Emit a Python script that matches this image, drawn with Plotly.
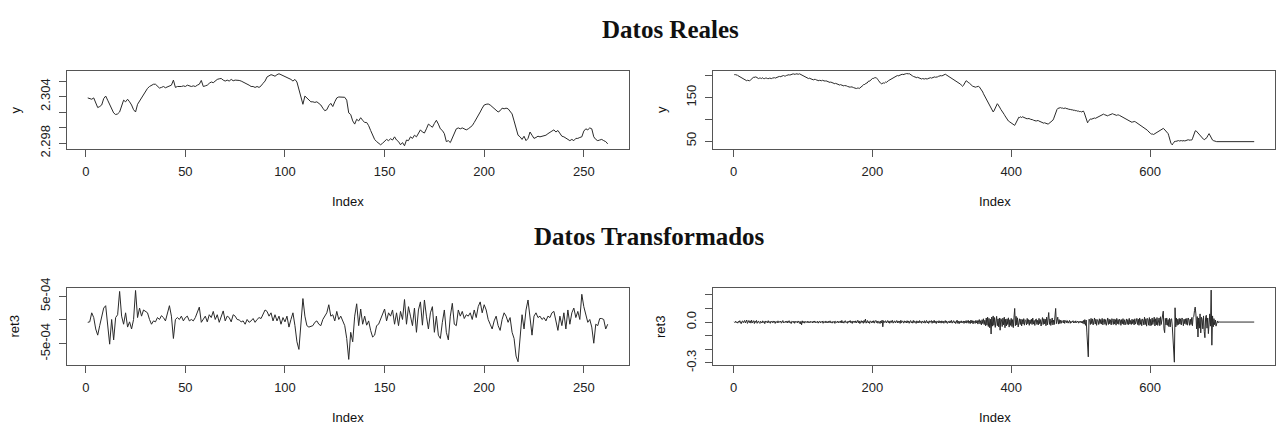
import plotly.graph_objects as go

# ---------------- data ----------------
# Top-left panel: "y" (Datos Reales), index 1..262
real_left = [
    2.30383, 2.30374, 2.30366, 2.30383, 2.30313, 2.30259, 2.30272, 2.30292, 2.30374, 2.30407,
    2.30354, 2.30292, 2.30243, 2.30190, 2.30169, 2.30177, 2.30202, 2.30292, 2.30354, 2.30333,
    2.30366, 2.30333, 2.30292, 2.30231, 2.30202, 2.30301, 2.30342, 2.30395, 2.30436, 2.30477,
    2.30506, 2.30530, 2.30547, 2.30559, 2.30559, 2.30530, 2.30510, 2.30518, 2.30530, 2.30514,
    2.30526, 2.30538, 2.30547, 2.30612, 2.30518, 2.30530, 2.30526, 2.30530, 2.30538, 2.30530,
    2.30547, 2.30538, 2.30530, 2.30538, 2.30530, 2.30547, 2.30559, 2.30608, 2.30530, 2.30538,
    2.30547, 2.30571, 2.30588, 2.30579, 2.30600, 2.30621, 2.30629, 2.30633, 2.30612, 2.30600,
    2.30612, 2.30600, 2.30621, 2.30604, 2.30612, 2.30612, 2.30608, 2.30600, 2.30588, 2.30579,
    2.30559, 2.30547, 2.30530, 2.30530, 2.30518, 2.30530, 2.30518, 2.30538, 2.30571, 2.30600,
    2.30653, 2.30670, 2.30682, 2.30674, 2.30662, 2.30682, 2.30694, 2.30682, 2.30670, 2.30662,
    2.30653, 2.30633, 2.30621, 2.30600, 2.30621, 2.30588, 2.30497, 2.30415, 2.30301, 2.30407,
    2.30383, 2.30354, 2.30333, 2.30333, 2.30325, 2.30333, 2.30313, 2.30292, 2.30251, 2.30218,
    2.30231, 2.30284, 2.30313, 2.30272, 2.30333, 2.30383, 2.30395, 2.30395, 2.30395, 2.30391,
    2.30354, 2.30190, 2.30169, 2.30087, 2.30046, 2.30108, 2.30087, 2.30128, 2.30095, 2.30067,
    2.30067, 2.30026, 2.29964, 2.29903, 2.29849, 2.29821, 2.29800, 2.29780, 2.29800, 2.29821,
    2.29849, 2.29833, 2.29857, 2.29841, 2.29882, 2.29841, 2.29821, 2.29780, 2.29808, 2.29767,
    2.29841, 2.29833, 2.29882, 2.29862, 2.29903, 2.29882, 2.29923, 2.29972, 2.29944, 2.29931,
    2.29985, 2.30046, 2.30026, 2.30005, 2.30054, 2.30095, 2.30046, 2.29985, 2.29964, 2.29923,
    2.29821, 2.29833, 2.29808, 2.29862, 2.29923, 2.29985, 2.29997, 2.29985, 2.29997, 2.29985,
    2.29972, 2.29985, 2.30005, 2.30026, 2.30067, 2.30108, 2.30149, 2.30202, 2.30251, 2.30292,
    2.30301, 2.30305, 2.30292, 2.30272, 2.30251, 2.30231, 2.30202, 2.30218, 2.30251, 2.30243,
    2.30251, 2.30243, 2.30210, 2.30177, 2.30087, 2.29985, 2.29903, 2.29882, 2.29849, 2.29890,
    2.29833, 2.29862, 2.29944, 2.29903, 2.29862, 2.29874, 2.29890, 2.29882, 2.29890, 2.29890,
    2.29903, 2.29923, 2.29944, 2.29956, 2.29972, 2.29944, 2.29964, 2.29923, 2.29890, 2.29882,
    2.29862, 2.29849, 2.29833, 2.29849, 2.29833, 2.29862, 2.29862, 2.29874, 2.29882, 2.29956,
    2.29985, 2.29972, 2.29997, 2.29985, 2.29882, 2.29849, 2.29833, 2.29841, 2.29849, 2.29833,
    2.29821, 2.29792,
]

# Top-right panel: "y" (Datos Reales), index 1..750
real_right = [
    203, 204, 203, 202, 203, 201, 200, 199, 198, 197, 196, 195, 194, 193, 192, 191, 190, 190, 189, 190,
    189, 188, 189, 190, 192, 193, 195, 196, 197, 196, 197, 198, 197, 196, 195, 194, 195, 196, 195, 194,
    195, 196, 194, 193, 194, 195, 196, 195, 194, 193, 194, 195, 194, 193, 194, 195, 196, 195, 196, 195,
    196, 197, 196, 197, 198, 199, 198, 199, 200, 199, 200, 201, 200, 199, 200, 201, 202, 201, 202, 203,
    202, 203, 204, 203, 204, 205, 204, 203, 204, 205, 204.5, 205.5, 205, 204, 205, 204, 203, 202, 201, 200,
    201, 200, 199, 198, 197, 196, 195, 194, 195, 194, 193, 192, 193, 192, 191, 192, 193, 192, 191, 190,
    191, 190, 189, 190, 189, 188, 189, 190, 189, 188, 187, 188, 189, 188, 187, 186, 187, 186, 185, 186,
    185, 184, 185, 184, 183, 182, 183, 182, 181, 182, 181, 180, 179, 180, 179, 178, 179, 178, 177, 178,
    177, 176, 177, 176, 175, 176, 175, 174, 175, 174, 173, 174, 173, 172, 173, 172, 171, 172, 173, 172,
    171, 172, 174, 176, 175, 177, 179, 181, 180, 182, 184, 183, 185, 187, 189, 188, 190, 192, 193, 194,
    195, 194, 196, 197, 196, 195, 194, 192, 189, 186, 184, 183, 182, 183, 182, 184, 183, 185, 186, 185,
    187, 188, 189, 190, 191, 193, 194, 195, 196, 197, 198, 199, 198, 199, 200, 201, 200, 201, 202, 203,
    202, 203, 204, 203, 204, 205, 204, 205, 205.5, 205, 204, 205, 205.5, 204, 203, 202, 201, 200, 199, 198,
    199, 198, 197, 196, 197, 196, 195, 194, 195, 194, 193, 194, 193, 192, 193, 194, 193, 192, 193, 194,
    195, 194, 195, 196, 195, 196, 197, 196, 197, 198, 197, 198, 199, 198, 199, 200, 199, 200, 201, 200,
    201, 202, 201, 203, 204, 203, 202, 201, 200, 199, 198, 197, 196, 195, 194, 193, 192, 191, 190, 189,
    188, 187, 186, 185, 184, 183, 181, 179, 177, 176, 178, 181, 184, 187, 189, 188, 186, 185, 184, 183,
    181, 179, 178, 177, 176, 175, 174, 173, 174, 175, 176, 177, 176, 175, 173, 171, 169, 166, 163, 159,
    156, 153, 149, 146, 143, 141, 138, 135, 131, 128, 125, 122, 119, 117, 119, 123, 128, 132, 135, 136,
    134, 132, 129, 126, 123, 121, 118, 115, 113, 111, 108, 105, 102, 100, 98, 96, 95, 94, 93, 92,
    91, 89, 88, 87, 86, 89, 93, 96, 100, 103, 105, 104, 106, 105, 104, 106, 105, 104, 103, 104,
    103, 102, 101, 102, 101, 100, 101, 100, 99, 98, 99, 98, 97, 98, 97, 96, 97, 98, 97, 96,
    95, 96, 95, 94, 93, 92, 91, 92, 91, 90, 89, 88, 89, 90, 91, 92, 93, 95, 97, 98,
    101, 106, 111, 116, 121, 123, 125, 126, 127, 126, 127, 126, 127, 126, 125, 126, 125, 126, 125, 124,
    125, 124, 123, 124, 123, 122, 123, 122, 121, 122, 121, 120, 121, 120, 119, 120, 119, 118, 119, 118,
    117, 118, 117, 119, 116, 111, 105, 99, 94, 92, 95, 98, 100, 101, 100, 101, 102, 101, 102, 103,
    102, 103, 104, 105, 104, 105, 106, 107, 108, 109, 110, 111, 112, 111, 110, 109, 108, 107, 108, 109,
    110, 111, 112, 113, 114, 113, 112, 111, 110, 109, 108, 109, 110, 111, 110, 109, 108, 107, 106, 105,
    104, 103, 102, 101, 100, 99, 98, 97, 96, 95, 94, 93, 92, 93, 94, 95, 96, 95, 94, 93,
    91, 90, 89, 88, 87, 86, 85, 84, 83, 82, 81, 80, 79, 78, 77, 75, 73, 71, 69, 68,
    67, 66, 67, 66, 65, 66, 67, 68, 69, 70, 71, 72, 73, 74, 75, 76, 77, 78, 79, 78,
    76, 74, 72, 70, 68, 67, 62, 55, 49, 45, 43, 41, 44, 47, 48, 50, 49, 50, 51, 50,
    51, 50, 51, 52, 51, 50, 51, 52, 51, 50, 51, 52, 51, 52, 53, 52, 51, 52, 53, 52,
    55, 60, 65, 70, 73, 74, 72, 70, 68, 66, 64, 62, 60, 58, 56, 55, 54, 53, 54, 55,
    56, 58, 62, 66, 67, 64, 60, 57, 54, 52, 51, 50, 50, 49, 49, 48.5, 48.5, 48.5, 48.5, 48.5,
    48.5, 48.5, 48.5, 48.5, 48.5, 48.5, 48.5, 48.5, 48.5, 48.5, 48.5, 48.5, 48.5, 48.5, 48.5, 48.5, 48.5, 48.5, 48.5, 48.5,
    48.5, 48.5, 48.5, 48.5, 48.5, 48.5, 48.5, 48.5, 48.5, 48.5, 48.5, 48.5, 48.5, 48.5, 48.5, 48.5, 48.5, 48.5, 48.5, 48.5,
    48.5, 48.5, 48.5, 48.5, 48.5, 48.5, 48.5, 48.5, 48.5, 48.5,
]

# Bottom-left panel: "ret3" (Datos Transformados), index 1..262
trans_left = [
    -0.5e-4, -0.4e-4, 1.5e-4, 0.5e-4, -1.9e-4, -3.2e-4, -1.2e-4, 0.8e-4, 2.5e-4, 3.0e-4,
    -0.5e-4, -5.1e-4, 0.1e-4, -4.2e-4, 0.5e-4, 1.1e-4, 6.0e-4, 0.8e-4, -0.9e-4, 1.5e-4,
    -1.5e-4, -0.4e-4, -1.9e-4, 0.1e-4, 6.2e-4, 0.5e-4, 2.5e-4, 0.8e-4, 2.1e-4, 1.8e-4,
    1.5e-4, 0.1e-4, -0.9e-4, -0.2e-4, -0.4e-4, 0.5e-4, 0.1e-4, 0.9e-4, 0.5e-4, -0.2e-4,
    1.5e-4, 3.0e-4, 0.8e-4, -3.9e-4, 0.1e-4, 0.5e-4, 0.1e-4, 0.8e-4, -0.2e-4, 0.5e-4,
    0.8e-4, -0.2e-4, 0.1e-4, -0.2e-4, 0.5e-4, 1.5e-4, 2.7e-4, -0.5e-4, 0.1e-4, 0.8e-4,
    -0.4e-4, 1.1e-4, 0.5e-4, 1.8e-4, 0.1e-4, 1.1e-4, -0.5e-4, 0.8e-4, 1.9e-4, -0.2e-4,
    0.8e-4, 0.5e-4, -0.4e-4, 1.1e-4, 0.8e-4, 0.1e-4, 0.0, -0.4e-4, -0.2e-4, -0.9e-4,
    0.1e-4, -0.5e-4, -0.2e-4, 0.3e-4, -0.5e-4, 0.1e-4, 0.5e-4, 0.3e-4, 1.1e-4, 2.1e-4,
    1.8e-4, 0.8e-4, 1.5e-4, -0.2e-4, 1.1e-4, -0.2e-4, 0.8e-4, -0.9e-4, 0.5e-4, -0.4e-4,
    0.8e-4, -1.5e-4, 0.1e-4, 1.5e-4, -1.2e-4, -4.6e-4, -6.2e-4, -0.5e-4, 4.5e-4, 0.8e-4,
    -1.2e-4, -1.5e-4, -1.3e-4, -1.2e-4, -0.5e-4, -0.2e-4, -0.9e-4, -1.2e-4, 0.1e-4, 0.8e-4,
    1.5e-4, 3.2e-4, 0.8e-4, 1.1e-4, -0.2e-4, 1.8e-4, 0.1e-4, 0.8e-4, -0.2e-4, -1.2e-4,
    -3.9e-4, -8.3e-4, -2.6e-4, -4.6e-4, 0.8e-4, 3.4e-4, -1.2e-4, 2.3e-4, -0.9e-4, 0.8e-4,
    -1.1e-4, -0.2e-4, -2.2e-4, -3.6e-4, -3.2e-4, -1.2e-4, -0.9e-4, 0.1e-4, 1.1e-4, 2.3e-4,
    -0.2e-4, 1.5e-4, 0.8e-4, 2.1e-4, -0.9e-4, 1.5e-4, -1.2e-4, 1.8e-4, 0.1e-4, 4.3e-4,
    -0.9e-4, 2.8e-4, 0.8e-4, -1.2e-4, 2.5e-4, -2.6e-4, 2.1e-4, 3.8e-4, -1.1e-4, 4.2e-4,
    0.8e-4, -1.9e-4, 1.5e-4, 2.8e-4, -2.6e-4, 0.8e-4, -3.2e-4, -3.9e-4, -0.5e-4, 2.1e-4,
    -2.6e-4, -4.2e-4, 0.8e-4, 3.5e-4, -0.9e-4, -1.2e-4, 2.1e-4, 0.8e-4, 1.8e-4, 0.3e-4,
    1.1e-4, 0.8e-4, 1.5e-4, 0.1e-4, 2.1e-4, 0.5e-4, 2.8e-4, 3.8e-4, 1.5e-4, 3.2e-4,
    2.1e-4, 0.1e-4, -0.9e-4, -1.9e-4, -0.2e-4, 0.8e-4, -1.2e-4, -2.2e-4, 0.1e-4, 1.5e-4,
    0.8e-4, -0.5e-4, 0.5e-4, -2.6e-4, -3.9e-4, -7.6e-4, -8.8e-4, -3.2e-4, 1.1e-4, -1.9e-4,
    2.1e-4, 4.2e-4, 0.1e-4, -3.2e-4, 0.8e-4, 1.5e-4, 0.5e-4, 0.8e-4, 0.1e-4, 0.5e-4,
    -0.2e-4, 0.8e-4, 0.5e-4, 1.5e-4, 1.8e-4, -0.5e-4, -2.2e-4, 0.8e-4, -1.2e-4, 1.5e-4,
    -1.9e-4, 2.1e-4, -0.9e-4, 1.5e-4, 2.5e-4, 0.5e-4, 1.8e-4, 0.1e-4, 5.4e-4, 2.8e-4,
    0.8e-4, -0.5e-4, 0.1e-4, -1.5e-4, -4.9e-4, -0.9e-4, -1.2e-4, 0.3e-4, 0.3e-4, 0.1e-4,
    -1.9e-4, -0.9e-4,
]

# Bottom-right panel: "ret3" (Datos Transformados), index 1..750
trans_right = [
    0.002, -0.004, 0.006, -0.003, 0.001, -0.008, 0.005, -0.002, 0.010, -0.006, -0.012, 0.004, 0.008, -0.005, 0.003, 0.012, -0.007, 0.002, 0.015, -0.010, 0.006, 0.011, -0.004, 0.009, -0.008,
    0.014, -0.006, 0.003, 0.010, -0.011, 0.007, -0.003, 0.012, -0.009, 0.005, 0.008, -0.004, -0.010, 0.006, 0.002, -0.007, 0.009, -0.003, 0.004, -0.012, 0.008, -0.002, 0.005, -0.006, 0.010,
    -0.004, 0.003, -0.009, 0.007, 0.001, -0.005, 0.008, -0.003, 0.006, -0.010, 0.004, 0.002, -0.006, 0.009, -0.004, 0.003, -0.002, 0.007, -0.008, 0.005, 0.011, -0.006, 0.002, -0.004, 0.006,
    -0.003, 0.008, -0.007, 0.004, 0.010, -0.005, 0.002, -0.011, 0.006, 0.003, -0.004, 0.007, -0.009, 0.005, -0.002, 0.004, -0.006, 0.008, -0.003, 0.002, -0.014, 0.005, -0.020, 0.009, -0.006,
    0.004, -0.008, 0.006, -0.003, 0.002, -0.005, 0.007, -0.004, 0.003, -0.006, 0.005, -0.002, 0.004, -0.007, 0.006, -0.003, 0.008, -0.005, 0.002, -0.004, 0.006, -0.008, 0.003, 0.005, -0.006,
    0.004, -0.002, 0.007, -0.009, 0.005, 0.002, -0.006, 0.008, -0.004, 0.003, -0.007, 0.006, -0.003, 0.009, -0.005, 0.002, -0.008, 0.004, -0.002, 0.006, -0.010, 0.005, 0.003, -0.004, 0.007,
    -0.006, 0.004, -0.003, 0.008, -0.007, 0.012, -0.005, 0.003, -0.008, 0.006, 0.010, -0.004, 0.002, -0.009, 0.007, -0.003, 0.005, 0.011, -0.006, 0.004, -0.010, 0.008, -0.002, 0.006, -0.005,
    0.009, -0.007, 0.004, 0.013, -0.006, 0.008, -0.011, 0.005, 0.010, -0.004, 0.007, -0.009, 0.012, -0.003, 0.022, -0.008, 0.006, 0.011, -0.007, 0.004, -0.010, 0.009, 0.003, -0.006, 0.008,
    -0.005, 0.010, -0.008, 0.006, 0.012, -0.004, 0.007, -0.009, 0.005, 0.003, -0.011, 0.008, -0.006, 0.014, -0.035, 0.010, -0.004, 0.006, 0.009, -0.007, 0.004, 0.011, -0.005, 0.008, -0.009,
    0.006, 0.010, -0.004, 0.012, -0.008, 0.005, 0.009, -0.006, 0.003, 0.011, -0.007, 0.008, -0.004, 0.006, -0.010, 0.013, -0.005, 0.007, 0.004, -0.008, 0.009, -0.003, 0.006, -0.007, 0.010,
    -0.004, 0.008, -0.009, 0.005, 0.011, -0.006, 0.004, -0.008, 0.012, -0.005, 0.007, 0.003, -0.010, 0.009, -0.004, 0.006, -0.007, 0.011, -0.003, 0.005, -0.009, 0.008, 0.004, -0.006, 0.010,
    -0.008, 0.005, 0.012, -0.007, 0.004, -0.010, 0.009, -0.003, 0.006, 0.011, -0.009, 0.007, -0.004, 0.013, -0.006, 0.005, -0.011, 0.008, 0.003, -0.007, 0.010, -0.005, 0.006, -0.008, 0.009,
    -0.004, 0.007, -0.009, 0.005, 0.011, -0.006, 0.008, -0.010, 0.004, 0.006, -0.007, 0.009, -0.005, 0.012, -0.008, 0.006, 0.010, -0.006, 0.004, -0.011, 0.008, 0.014, -0.009, 0.006, -0.012,
    0.006, -0.004, 0.009, -0.007, 0.005, 0.008, -0.010, 0.007, -0.005, 0.011, -0.008, 0.006, 0.013, -0.009, 0.007, -0.011, 0.015, -0.006, 0.010, -0.013, 0.008, 0.005, -0.010, 0.012, -0.007,
    0.011, -0.015, 0.009, 0.018, -0.013, 0.010, -0.021, 0.017, -0.011, 0.024, -0.018, 0.013, -0.027, 0.030, -0.023, 0.036, -0.033, 0.027, -0.042, 0.021, -0.088, 0.037, -0.030, 0.045, -0.024,
    0.033, -0.039, 0.018, 0.042, -0.027, 0.023, -0.036, 0.030, -0.060, 0.025, 0.015, -0.033, 0.029, -0.021, 0.036, -0.042, 0.021, -0.029, 0.024, -0.018, 0.031, -0.037, 0.017, -0.024, 0.027,
    -0.033, 0.018, -0.041, 0.036, 0.100, -0.027, 0.042, -0.021, 0.031, -0.036, 0.015, 0.024, -0.018, 0.021, -0.029, 0.018, -0.015, 0.025, -0.023, 0.017, 0.012, -0.021, 0.027, -0.013, 0.018,
    -0.024, 0.015, -0.011, 0.021, -0.018, 0.029, -0.015, 0.012, -0.025, 0.018, 0.023, -0.017, 0.013, -0.021, 0.027, -0.012, 0.018, -0.029, 0.015, 0.033, -0.018, 0.024, -0.013, 0.021, -0.027,
    0.036, -0.021, 0.027, 0.070, -0.017, 0.023, -0.025, 0.018, 0.030, -0.021, 0.015, -0.018, 0.039, 0.100, -0.012, 0.027, 0.036, -0.015, 0.018, -0.011, 0.013, -0.009, 0.011, 0.006, -0.007,
    0.015, -0.010, 0.008, 0.012, -0.006, 0.010, -0.008, 0.005, 0.012, -0.009, 0.006, -0.004, 0.008, 0.010, -0.007, 0.004, -0.006, 0.009, -0.005, 0.003, 0.007, -0.008, 0.005, -0.003, 0.006,
    -0.006, 0.007, -0.009, 0.012, -0.015, 0.018, -0.024, 0.015, -0.080, -0.150, -0.256, 0.021, 0.017, -0.018, 0.027, -0.012, 0.023, -0.021, 0.018, 0.030, -0.015, 0.021, -0.024, 0.017, 0.012,
    -0.018, 0.024, -0.011, 0.019, -0.015, 0.027, -0.021, 0.013, 0.023, -0.017, 0.018, -0.024, 0.015, 0.030, -0.018, 0.021, -0.013, 0.017, -0.021, 0.025, 0.012, -0.018, 0.023, -0.015, 0.018,
    -0.023, 0.027, -0.012, 0.018, -0.017, 0.021, 0.015, -0.024, 0.018, -0.013, 0.025, -0.018, 0.017, -0.021, 0.015, 0.023, -0.017, 0.018, -0.019, 0.027, -0.015, 0.012, -0.018, 0.021, -0.012,
    0.017, -0.021, 0.024, -0.015, 0.018, 0.027, -0.018, 0.021, -0.024, 0.030, -0.017, 0.019, -0.027, 0.023, 0.015, -0.021, 0.036, -0.018, 0.024, -0.030, 0.027, 0.018, -0.023, 0.033, -0.027,
    0.021, -0.024, 0.030, -0.018, 0.027, 0.036, -0.029, 0.024, -0.021, 0.033, -0.025, 0.023, 0.030, -0.027, 0.039, -0.018, 0.024, 0.075, 0.080, -0.050, -0.078, 0.027, -0.021, 0.030, -0.024,
    0.018, -0.033, 0.027, -0.036, 0.021, 0.024, -0.030, -0.100, -0.180, -0.295, 0.105, -0.036, 0.030, -0.024, 0.021, -0.018, 0.027, -0.015, 0.024, -0.021, 0.030, 0.018, -0.027, 0.021, -0.012,
    0.024, -0.018, 0.027, -0.023, 0.030, 0.015, -0.024, 0.021, -0.018, 0.033, -0.027, 0.036, 0.042, 0.085, 0.110, 0.060, -0.050, 0.040, -0.110, 0.030, -0.045, 0.060, -0.080, 0.035, 0.020,
    -0.050, 0.045, -0.070, -0.115, 0.035, 0.050, -0.045, 0.030, -0.085, 0.020, 0.060, -0.030, 0.235, -0.170, 0.045, -0.035, 0.025, -0.020, 0.015, -0.030, -0.018, 0.008, -0.006, 0.004, 0.000,
    0.0, 0.0, 0.0, 0.0, 0.0, 0.0, 0.0, 0.0, 0.0, 0.0, 0.0, 0.0, 0.0, 0.0, 0.0, 0.0, 0.0, 0.0, 0.0, 0.0, 0.0, 0.0, 0.0, 0.0, 0.0,
    0.0, 0.0, 0.0, 0.0, 0.0, 0.0, 0.0, 0.0, 0.0, 0.0, 0.0, 0.0, 0.0, 0.0, 0.0, 0.0, 0.0, 0.0, 0.0, 0.0, 0.0, 0.0, 0.0, 0.0, 0.0,
]

# tick values / labels
x_ticks_left = [0, 50, 100, 150, 200, 250]
x_ticks_right = [0, 200, 400, 600]
y_ticks_real_left = [2.298, 2.300, 2.302, 2.304, 2.306]
y_text_real_left = ["2.298", "", "", "2.304", ""]
y_ticks_real_right = [50, 100, 150, 200]
y_text_real_right = ["50", "", "150", ""]
y_ticks_trans_left = [-5e-4, 0.0, 5e-4]
y_text_trans_left = ["-5e-04", "", "5e-04"]
y_ticks_trans_right = [-0.3, -0.2, -0.1, 0.0, 0.1, 0.2]
y_text_trans_right = ["-0.3", "", "", "0.0", "", ""]

# ---------------- figure ----------------
W, H = 1276, 434


def fx(px):
    return px / W


def fy(py):
    return 1 - py / H


LINE = "#2a2a2a"
AX = "#555555"
TXT = "#222222"
SANS = "Liberation Sans, Arial, sans-serif"
SERIF = "Liberation Serif, Times New Roman, serif"

fig = go.Figure()
series = [(real_left, "x", "y"), (real_right, "x2", "y2"),
          (trans_left, "x3", "y3"), (trans_right, "x4", "y4")]
for vals, xa, ya in series:
    fig.add_trace(go.Scatter(x=list(range(1, len(vals) + 1)), y=vals, mode="lines",
                             line=dict(color=LINE, width=1), xaxis=xa, yaxis=ya,
                             hoverinfo="skip", showlegend=False))


def xax(domain, rng, ticks, anchor):
    return dict(domain=domain, range=rng, anchor=anchor, tickvals=ticks,
                ticktext=[str(t) for t in ticks], ticks="outside", ticklen=7,
                tickcolor=AX, tickwidth=1, showline=True, mirror=True, linecolor=AX,
                linewidth=1, showgrid=False, zeroline=False,
                tickfont=dict(family=SANS, size=13, color=TXT), ticklabelstandoff=4)


def yax(domain, rng, ticks, text, anchor):
    return dict(domain=domain, range=rng, anchor=anchor, tickvals=ticks, ticktext=text,
                ticks="outside", ticklen=7, tickcolor=AX, tickwidth=1, tickangle=-90,
                showline=True, mirror=True, linecolor=AX, linewidth=1, showgrid=False,
                zeroline=False, tickfont=dict(family=SANS, size=13, color=TXT),
                ticklabelstandoff=4)


dx_left = [fx(67), fx(629)]
dx_right = [fx(714), 1.0]
dy_top = [fy(145), fy(63.5)]
dy_bot = [fy(371), fy(290.5)]

fig.update_layout(
    width=W, height=H, margin=dict(l=0, r=0, t=0, b=0),
    paper_bgcolor="white", plot_bgcolor="white", showlegend=False,
    xaxis=xax(dx_left, [-9.44, 272.44], x_ticks_left, "y"),
    yaxis=yax(dy_top, [2.2973, 2.30733], y_ticks_real_left, y_text_real_left, "x"),
    xaxis2=xax(dx_right, [-28.96, 779.96], x_ticks_right, "y2"),
    yaxis2=yax(dy_top, [32.35, 212.1], y_ticks_real_right, y_text_real_right, "x2"),
    xaxis3=xax(dx_left, [-9.44, 272.44], x_ticks_left, "y3"),
    yaxis3=yax(dy_bot, [-9.43e-4, 6.77e-4], y_ticks_trans_left, y_text_trans_left, "x3"),
    xaxis4=xax(dx_right, [-28.96, 779.96], x_ticks_right, "y4"),
    yaxis4=yax(dy_bot, [-0.314, 0.252], y_ticks_trans_right, y_text_trans_right, "x4"),
)

ann = []


def text(s, x, y, size=13, family=SANS, bold=False, angle=0):
    ann.append(dict(text=("<b>%s</b>" % s) if bold else s, x=x, y=y, xref="paper",
                    yref="paper", xanchor="center", yanchor="middle", showarrow=False,
                    textangle=angle, font=dict(family=family, size=size, color="#111111")))


text("Datos Reales", fx(671.5), fy(20), size=25, family=SERIF, bold=True)
text("Datos Transformados", fx(650), fy(237), size=25, family=SERIF, bold=True)
text("Index", fx(348), fy(200))
text("Index", fx(995.5), fy(200))
text("Index", fx(348), fy(426))
text("Index", fx(995.5), fy(426))
text("y", fx(15), fy(104), angle=-90)
text("y", fx(662), fy(104), angle=-90)
text("ret3", fx(15), fy(331), angle=-90)
text("ret3", fx(661), fy(331), angle=-90)
fig.update_layout(annotations=ann)

fig.write_html("out.html")
